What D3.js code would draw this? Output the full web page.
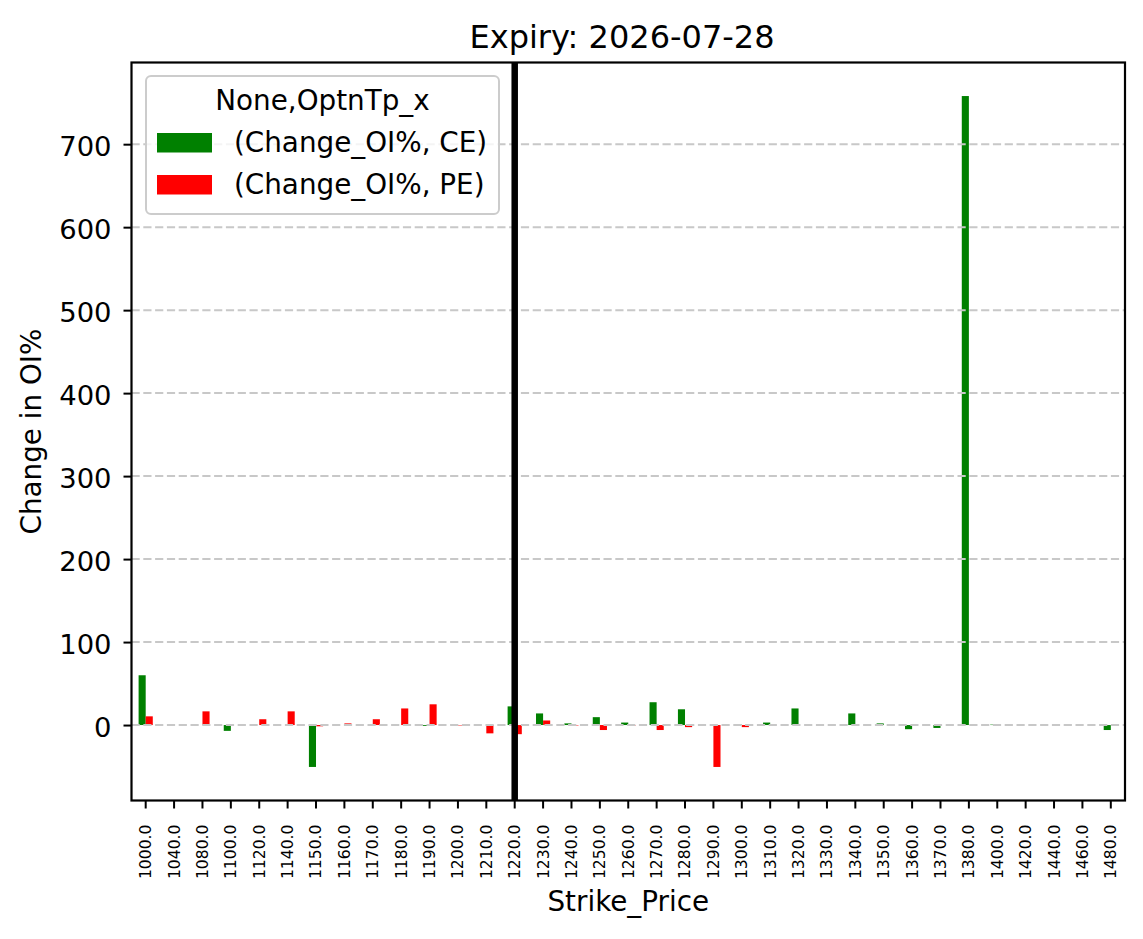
<!DOCTYPE html>
<html>
<head>
<meta charset="utf-8">
<script src="https://cdn.jsdelivr.net/npm/d3@7"></script>
<style>
body { margin: 0; background: #fff; }
text { font-family: "DejaVu Sans", sans-serif; fill: #000; }
</style>
</head>
<body>
<div id="chart-area"></div>
<script>
// data
const strikes = [1000, 1040, 1080, 1100, 1120, 1140, 1150, 1160, 1170, 1180, 1190, 1200,
    1210, 1220, 1230, 1240, 1250, 1260, 1270, 1280, 1290, 1300, 1310, 1320, 1330, 1340,
    1350, 1360, 1370, 1380, 1400, 1420, 1440, 1460, 1480];
const ceChange = [60, null, null, -7, null, null, -50.5, null, null, null, -1, 1,
    null, 22.5, 14, 2, 9.5, 3, 27.5, 19, null, 0.5, 3, 20, null, 14,
    2, -5, -3.5, 758, 0.5, null, null, null, -6];
const peChange = [10.5, null, 16.5, null, 7, 16.5, -1.5, 2, 7, 20, 25, -0.5,
    -10, -11, 5.5, -0.5, -6, -1, -6, -2.5, -50.5, -2.5, null, null, null, null,
    null, null, null, null, null, null, null, null, null];
const yTicks = [0, 100, 200, 300, 400, 500, 600, 700];
const atmStrike = 1220;
const seriesNames = ["(Change_OI%, CE)", "(Change_OI%, PE)"];
const seriesColors = ["#008000", "#ff0000"];
const legendTitle = "None,OptnTp_x";
const chartTitle = "Expiry: 2026-07-28";

const margin = { top: 62.5, right: 18, bottom: 138.5, left: 131.5 };
const width = 1143 - margin.left - margin.right;
const height = 939 - margin.top - margin.bottom;

const svg = d3
    .select("#chart-area")
    .append("svg")
    .attr("width", width + margin.left + margin.right)
    .attr("height", height + margin.top + margin.bottom);

const g = svg
    .append("g")
    .attr("transform", `translate(${margin.left}, ${margin.top})`);

//Scales (matplotlib style 5% margin on y)
const allVals = ceChange.concat(peChange).filter((v) => v !== null).concat([0]);
const yMin = d3.min(allVals);
const yMax = d3.max(allVals);
const pad = (yMax - yMin) * 0.05;
const xScale = d3.scaleBand().domain(strikes).range([0, width]).padding(0);
const yScale = d3.scaleLinear().domain([yMin - pad, yMax + pad]).range([height, 0]);
const bw = xScale.bandwidth();

//Bars
const series = [ceChange, peChange];
series.forEach((vals, si) => {
    const rows = strikes
        .map((s, i) => ({ strike: s, value: vals[i] }))
        .filter((d) => d.value !== null);
    g.append("g")
        .selectAll("rect")
        .data(rows)
        .enter()
        .append("rect")
        .attr("x", (d) => xScale(d.strike) + bw * (0.25 + si * 0.25))
        .attr("width", bw * 0.25)
        .attr("y", (d) => yScale(Math.max(d.value, 0)))
        .attr("height", (d) => Math.abs(yScale(d.value) - yScale(0)))
        .attr("fill", seriesColors[si]);
});

//Grid
g.append("g")
    .selectAll("line")
    .data(yTicks)
    .enter()
    .append("line")
    .attr("x1", 0)
    .attr("x2", width)
    .attr("y1", (d) => yScale(d))
    .attr("y2", (d) => yScale(d))
    .attr("stroke", "#c8c8c8")
    .attr("stroke-width", 2)
    .attr("stroke-dasharray", "8.2,3.6");

//ATM line
g.append("line")
    .attr("x1", xScale(atmStrike) + bw / 2)
    .attr("x2", xScale(atmStrike) + bw / 2)
    .attr("y1", 0)
    .attr("y2", height)
    .attr("stroke", "#000")
    .attr("stroke-width", 6.5);

//Axes
const xAxisCall = d3
    .axisBottom(xScale)
    .tickSize(8)
    .tickFormat(d3.format(".1f"));
const yAxisCall = d3.axisLeft(yScale).tickValues(yTicks).tickSize(8);

const xAxis = g
    .append("g")
    .attr("class", "x-axis")
    .attr("transform", `translate(0, ${height})`)
    .call(xAxisCall);
xAxis.select(".domain").remove();
xAxis.selectAll("line").attr("stroke", "#000").attr("stroke-width", 2);
xAxis
    .selectAll("text")
    .attr("font-size", "15.6px")
    .attr("font-family", "DejaVu Sans")
    .attr("text-anchor", "end")
    .attr("x", -24)
    .attr("y", 0)
    .attr("dy", "0.35em")
    .attr("transform", "rotate(-90)");

const yAxis = g.append("g").attr("class", "y-axis").call(yAxisCall);
yAxis.select(".domain").remove();
yAxis.selectAll("line").attr("stroke", "#000").attr("stroke-width", 2);
yAxis
    .selectAll("text")
    .attr("font-size", "27.4px")
    .attr("font-family", "DejaVu Sans")
    .attr("x", -20)
    .attr("dy", "0.42em");

//Frame
g.append("rect")
    .attr("width", width)
    .attr("height", height)
    .attr("fill", "none")
    .attr("stroke", "#000")
    .attr("stroke-width", 2.2);

//Legend
const legendGroup = g
    .append("g")
    .attr("transform", `translate(${146 - margin.left}, ${76 - margin.top})`);
legendGroup
    .append("rect")
    .attr("width", 353)
    .attr("height", 138)
    .attr("rx", 5)
    .attr("fill", "#fff")
    .attr("fill-opacity", 0.8)
    .attr("stroke", "#cccccc")
    .attr("stroke-width", 2);
legendGroup
    .append("text")
    .attr("x", 176.5)
    .attr("y", 33.5)
    .attr("text-anchor", "middle")
    .attr("font-size", "27.8px")
    .text(legendTitle);
seriesNames.forEach((name, i) => {
    const row = legendGroup
        .append("g")
        .attr("transform", `translate(0, ${i * 42})`);
    row.append("rect")
        .attr("x", 11)
        .attr("y", 57)
        .attr("width", 55)
        .attr("height", 19.5)
        .attr("fill", seriesColors[i]);
    row.append("text")
        .attr("x", 88)
        .attr("y", 76)
        .attr("font-size", "27.8px")
        .text(name);
});

//Labels
svg.append("text")
    .attr("x", 622)
    .attr("y", 47.5)
    .attr("text-anchor", "middle")
    .attr("font-size", "32px")
    .text(chartTitle);

g.append("text")
    .attr("x", width / 2)
    .attr("y", 911 - margin.top)
    .attr("text-anchor", "middle")
    .attr("font-size", "27.8px")
    .text("Strike_Price");

g.append("text")
    .attr("x", -height / 2)
    .attr("y", 41 - margin.left)
    .attr("text-anchor", "middle")
    .attr("font-size", "27.8px")
    .attr("transform", "rotate(-90)")
    .text("Change in OI%");
</script>
</body>
</html>
